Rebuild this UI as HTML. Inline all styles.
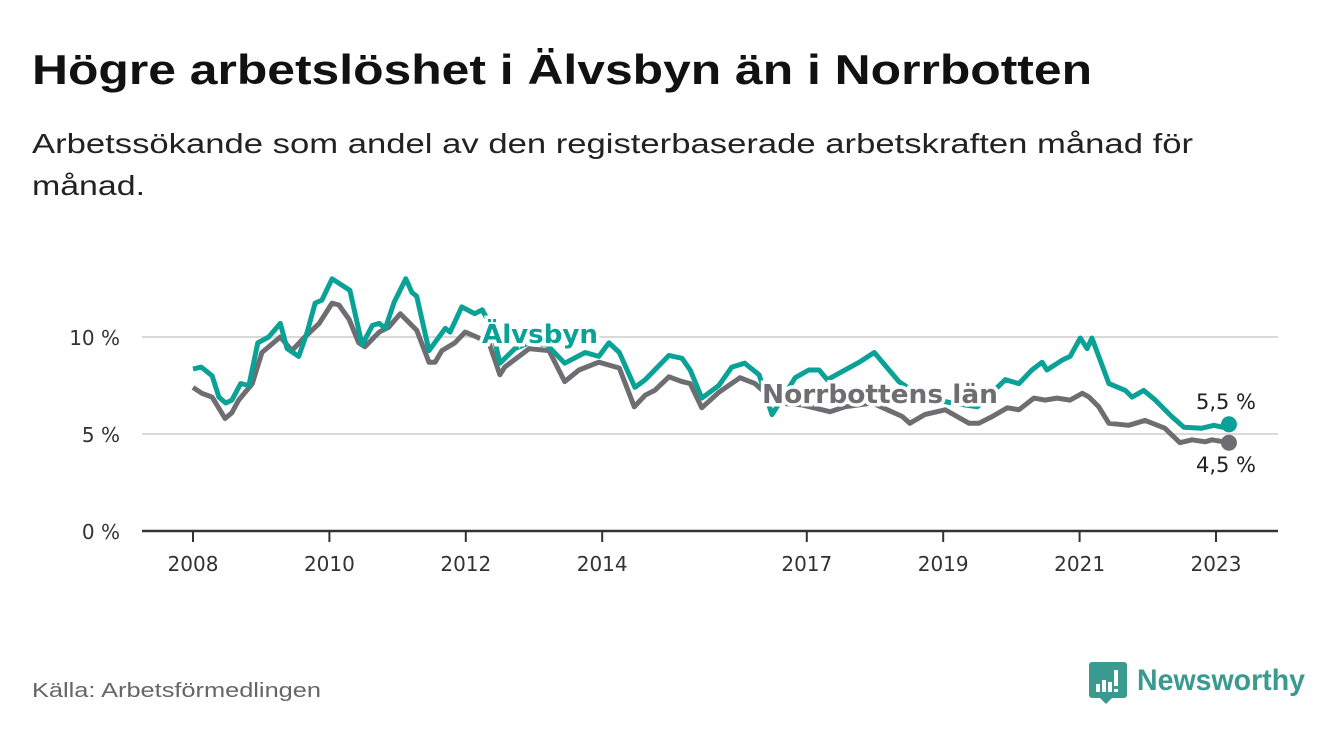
<!DOCTYPE html>
<html><head><meta charset="utf-8">
<style>
body{margin:0;background:#fff;width:1340px;height:734px;overflow:hidden;font-family:"DejaVu Sans","Liberation Sans",sans-serif;}
</style></head>
<body>
<svg width="1340" height="734" viewBox="0 0 1340 734">
<text x="32" y="84" font-size="42" font-weight="bold" fill="#111" textLength="1060" lengthAdjust="spacingAndGlyphs" font-family="Liberation Sans, sans-serif">Högre arbetslöshet i Älvsbyn än i Norrbotten</text>
<text x="32" y="153" font-size="28" fill="#222" textLength="1161" lengthAdjust="spacingAndGlyphs" font-family="Liberation Sans, sans-serif">Arbetssökande som andel av den registerbaserade arbetskraften månad för</text>
<text x="32" y="195" font-size="28" fill="#222" textLength="113" lengthAdjust="spacingAndGlyphs" font-family="Liberation Sans, sans-serif">månad.</text>
<g id="axes"></g>
<g id="series"></g>
<text x="32" y="697" font-size="20" fill="#666" textLength="289" lengthAdjust="spacingAndGlyphs" font-family="Liberation Sans, sans-serif">Källa: Arbetsförmedlingen</text>
<g>
<path d="M1092 662 h32 a3 3 0 0 1 3 3 v30 a3 3 0 0 1 -3 3 h-12 l-6 6 l-6 -6 h-8 a3 3 0 0 1 -3 -3 v-30 a3 3 0 0 1 3 -3z" fill="#3a9a8f"/>
<rect x="1096" y="684" width="4" height="8" fill="#fff"/><rect x="1102" y="680" width="4" height="12" fill="#fff"/><rect x="1108" y="682" width="4" height="10" fill="#fff"/><rect x="1114" y="670" width="4" height="16" fill="#fff"/><rect x="1114" y="689" width="4" height="3" fill="#fff"/>
<text x="1137" y="690" font-size="30" font-weight="bold" fill="#3a9a8f" textLength="168" lengthAdjust="spacingAndGlyphs" font-family="Liberation Sans, sans-serif">Newsworthy</text>
</g>
</svg>
<script>
const yTicks=[0,5,10];
const yTickLabels=["0 %","5 %","10 %"];
const xTicks=[2008,2010,2012,2014,2017,2019,2021,2023];
const alvT=[0,0.12,0.28,0.38,0.48,0.57,0.70,0.82,0.95,1.11,1.28,1.38,1.55,1.67,1.79,1.89,2.04,2.30,2.48,2.63,2.73,2.82,2.95,3.12,3.21,3.28,3.46,3.70,3.77,3.94,4.13,4.24,4.38,4.50,4.72,4.93,5.19,5.45,5.75,5.95,6.10,6.25,6.48,6.63,6.77,6.98,7.17,7.29,7.46,7.71,7.90,8.09,8.30,8.49,8.83,9.03,9.18,9.30,9.77,9.99,10.35,10.69,11.13,11.50,11.91,12.11,12.30,12.45,12.52,12.74,12.86,13.01,13.11,13.18,13.43,13.67,13.77,13.94,14.11,14.35,14.53,14.79,14.97,15.09,15.19];
const alvV=[8.35,8.45,8.0,6.9,6.6,6.75,7.6,7.5,9.7,10.0,10.7,9.4,9.0,10.2,11.75,11.9,13.0,12.4,9.6,10.6,10.7,10.45,11.8,13.0,12.3,12.1,9.3,10.45,10.25,11.55,11.2,11.4,10.5,8.65,9.4,9.7,9.6,8.65,9.2,9.0,9.7,9.2,7.4,7.8,8.3,9.05,8.9,8.3,6.85,7.5,8.45,8.65,8.05,6.0,7.9,8.3,8.3,7.8,8.7,9.2,7.7,6.9,6.6,6.4,7.8,7.6,8.3,8.7,8.3,8.8,9.0,9.95,9.4,9.95,7.6,7.25,6.9,7.25,6.75,5.9,5.35,5.3,5.45,5.35,5.5];
const norT=[0,0.13,0.28,0.47,0.57,0.67,0.87,1.01,1.28,1.45,1.64,1.85,2.04,2.14,2.29,2.43,2.52,2.73,2.87,3.04,3.28,3.46,3.55,3.65,3.84,3.99,4.16,4.34,4.50,4.57,4.93,5.22,5.45,5.66,5.95,6.25,6.47,6.63,6.77,6.98,7.17,7.29,7.46,7.71,8.02,8.24,8.56,8.93,9.34,9.56,9.96,10.40,10.51,10.73,11.03,11.38,11.52,11.72,11.94,12.11,12.33,12.49,12.67,12.86,13.04,13.14,13.28,13.43,13.72,13.96,14.25,14.47,14.65,14.84,14.94,15.19];
const norV=[7.4,7.1,6.9,5.8,6.1,6.75,7.6,9.2,10.0,9.3,10.0,10.7,11.75,11.65,10.9,9.7,9.5,10.25,10.5,11.2,10.35,8.7,8.7,9.3,9.7,10.25,10.0,9.7,8.05,8.45,9.4,9.3,7.7,8.3,8.7,8.4,6.4,7.0,7.25,7.95,7.7,7.6,6.35,7.15,7.9,7.6,6.6,6.5,6.15,6.4,6.6,5.9,5.55,6.0,6.25,5.55,5.55,5.9,6.35,6.25,6.85,6.75,6.85,6.75,7.1,6.9,6.4,5.55,5.45,5.7,5.3,4.55,4.7,4.6,4.7,4.55];
const NS="http://www.w3.org/2000/svg";
const X=t=>193+(t-2008)*68.2;
const Y=v=>531-v*19.4;
const axes=document.getElementById('axes'),ser=document.getElementById('series');
function mk(tag,at,parent){const e=document.createElementNS(NS,tag);for(const k in at)e.setAttribute(k,at[k]);parent.appendChild(e);return e;}
yTicks.forEach((v,i)=>{
 if(v>0){const g=mk('line',{x1:142,x2:1278,y1:Y(v),y2:Y(v),stroke:'#d9d9d9','stroke-width':2},axes);
 
 }
 const t=mk('text',{x:120,y:Y(v)+8,'text-anchor':'end','font-size':20,fill:'#333'},axes);t.textContent=yTickLabels[i];
 
 
});
const base=mk('line',{x1:142,x2:1278,y1:531,y2:531,stroke:'#333','stroke-width':2.5},axes);


xTicks.forEach(y=>{
 const tk=mk('line',{x1:X(y),x2:X(y),y1:531,y2:542,stroke:'#333','stroke-width':2},axes);
 
 
 const t=mk('text',{x:X(y),y:571,'text-anchor':'middle','font-size':20,fill:'#333'},axes);t.textContent=y;
 
 
});
function line(T,V,col,name){
 const d=T.map((t,i)=>(i?'L':'M')+X(2008+t).toFixed(1)+' '+Y(V[i]).toFixed(1)).join(' ');
 const p=mk('path',{d:d,fill:'none',stroke:col,'stroke-width':5,'stroke-linejoin':'round'},ser);
 
 
 const n=T.length-1;
 const c=mk('circle',{cx:X(2008+T[n]),cy:Y(V[n]),r:8,fill:col},ser);
 
 
}
line(norT,norV,'#6e6d72','norrbotten-line');
line(alvT,alvV,'#0aa296','alvsbyn-line');
function lab(x,y,s,col,name,anchor,bold,size,len){
 const at={x:x,y:y,'font-size':size,'font-weight':bold?'bold':'normal',fill:col,stroke:'#fff','stroke-width':bold?7:0,'paint-order':'stroke','text-anchor':anchor};
 if(len){at.textLength=len;at.lengthAdjust='spacingAndGlyphs';}
 const t=mk('text',at,ser);
 t.textContent=s;
 
 
}
lab(482,343,'Älvsbyn','#0aa296','alvsbyn-label','start',true,26,116);
lab(762,403,'Norrbottens län','#6e6d72','norrbotten-label','start',true,26,236);
lab(1226,409,alvV[alvV.length-1].toFixed(1).replace('.',',')+' %','#222','alvsbyn-end-value','middle',false,21);
lab(1226,472,norV[norV.length-1].toFixed(1).replace('.',',')+' %','#222','norrbotten-end-value','middle',false,21);
</script>
</body></html>
